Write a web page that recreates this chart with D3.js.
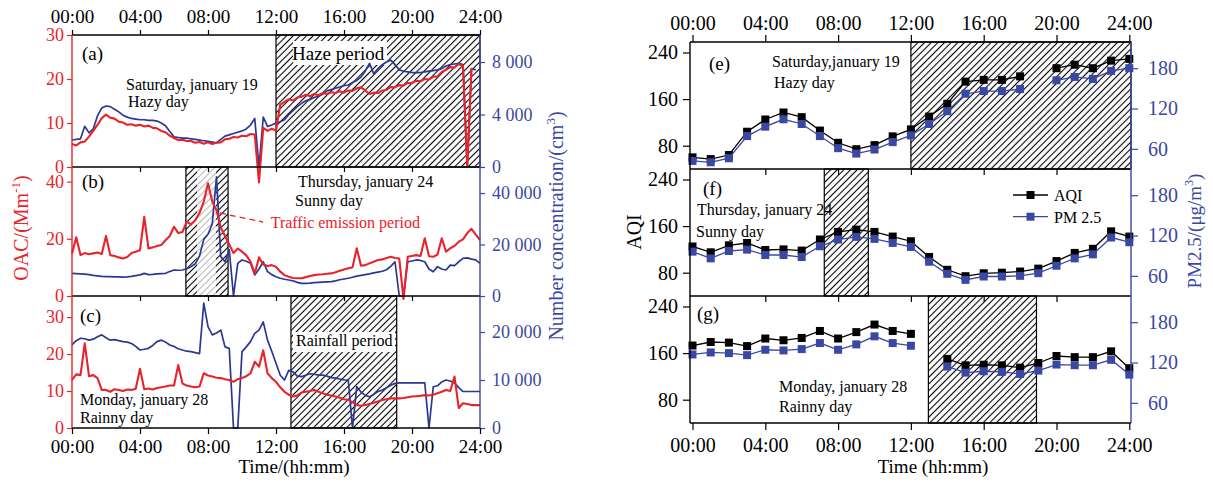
<!DOCTYPE html>
<html><head><meta charset="utf-8">
<script src="https://cdn.jsdelivr.net/npm/d3@7"></script>
<style>
body{margin:0;background:#fff;}
svg text{font-family:"Liberation Serif","Times New Roman",serif;}
</style></head><body>
<svg id="c" width="1213" height="485"></svg>
<script>
// ---------- DATA ----------
const tickHours = [0,4,8,12,16,20,24];
const tickLabels = ["00:00","04:00","08:00","12:00","16:00","20:00","24:00"];
const stepHours = 0.25; // sampling of the continuous series (every 15 min)

// Panel (a) Saturday Jan 19
const aOAC = [5.2,4.9,5.6,5.8,6.9,8.2,9.6,11.1,11.9,11.2,
 11.0,10.3,10.1,9.6,9.7,9.4,9.6,9.2,9.4,8.9,
 8.8,8.2,7.9,7.1,6.6,6.1,6.2,5.9,5.9,5.5,
 5.7,5.3,5.6,5.2,5.5,5.6,6.3,6.4,6.8,6.7,
 7.1,7.0,7.5,7.4,-3.5,8.9,8.2,8.7,8.3,14.2,
 14.8,15.4,15.1,15.8,16.0,16.4,16.1,16.6,16.3,16.8,
 16.6,17.0,16.8,17.2,16.9,17.4,17.3,17.9,18.1,17.4,
 16.6,16.9,16.8,17.4,17.5,18.2,18.1,18.6,18.5,19.1,
 19.1,19.6,19.5,20.0,19.9,20.5,20.6,21.6,22.1,22.7,
 22.6,23.4,22.9,0,22.5,null,null];
const aNumK = [2.06,2.1,2.15,3.1,2.6,2.9,3.9,4.5,4.65,4.6,
 4.4,4.2,3.95,3.8,3.7,3.65,3.6,3.6,3.55,3.55,
 3.5,3.35,3.15,2.7,2.3,2.25,2.2,2.2,2.15,2.1,
 2.05,2.0,1.95,1.9,1.85,2.1,2.35,2.45,2.55,2.65,
 2.75,2.9,3.2,3.7,0,3.8,3.1,3.2,3.35,3.45,
 3.6,4.0,4.3,4.6,4.85,5.05,5.15,5.3,5.4,5.55,
 5.8,5.9,6.0,6.1,6.2,6.25,6.45,6.6,6.85,7.3,
 7.9,7.1,7.5,7.8,8.0,8.15,7.8,7.4,7.3,7.25,
 7.2,7.2,7.2,7.25,7.3,7.35,7.4,7.5,7.7,7.8,
 7.85,7.9,7.8,0,7.5,7.4,null];

// Panel (b) Thursday Jan 24
const bOAC = [14.9,20.5,14.3,15.0,14.6,14.9,15.2,14.7,21.0,14.3,
 14.0,13.5,13.1,13.6,15.0,15.5,16.0,27.7,16.6,17.0,
 17.5,17.8,19.5,21.0,24.2,22.0,22.4,26.0,25.0,26.5,
 29.0,33.0,39.4,33.0,30.0,24.0,21.0,18.0,15.0,16.6,
 15.5,14.2,12.0,7.8,13.5,11.0,10.5,10.8,10.2,8.5,
 7.3,6.7,6.3,6.2,6.2,6.6,7.0,7.3,7.5,7.6,
 7.8,7.9,8.3,8.8,9.3,9.7,10.0,16.7,10.6,10.8,
 11.4,12.0,12.6,12.8,13.3,13.7,13.3,13.1,-1.0,13.7,
 14.0,14.3,14.0,20.2,13.9,13.7,14.5,20.2,15.5,16.7,
 17.5,19.0,19.8,22.0,23.5,21.5,19.5];
const bNumK = [8.8,8.7,8.6,8.5,8.3,8.0,7.8,7.6,7.5,7.5,
 7.4,7.4,7.3,7.4,7.6,7.9,8.2,8.8,8.3,8.4,
 8.6,8.7,8.8,9.5,10.1,10.0,10.1,10.6,11.4,12.5,
 15.5,22.0,24.0,28.0,46.3,15.3,13.3,17.9,0,12.7,
 14.0,13.5,12.7,8.2,10.5,13.3,9.5,8.3,7.5,6.9,
 6.5,6.2,5.9,5.3,4.9,4.9,5.0,5.2,5.3,5.4,
 5.5,5.6,5.9,6.3,6.6,6.9,7.3,7.7,8.0,8.3,
 8.6,9.0,9.3,9.6,10.2,11.5,13.3,0,0,13.3,
 13.6,14.0,13.8,13.3,10.5,9.4,11.4,10.5,10.1,12.0,
 11.8,13.3,14.6,14.8,14.3,14.0,12.7];

// Panel (c) Monday Jan 28
const cOAC = [13.0,14.5,14.3,22.9,14.0,14.3,13.5,10.3,10.3,9.8,
 10.5,10.3,10.0,10.4,10.3,10.6,16.0,10.5,10.7,10.4,
 10.8,11.0,11.2,11.5,11.5,17.0,12.0,11.5,11.2,11.0,
 11.2,14.8,14.2,13.9,13.6,13.5,13.2,13.0,12.5,13.2,
 13.5,14.0,14.8,17.9,16.6,21.0,14.8,13.5,12.5,11.0,
 9.8,9.0,8.5,8.8,9.6,9.8,10.0,10.3,9.8,9.4,
 9.0,8.8,8.5,8.2,7.8,7.6,7.0,6.2,6.0,6.2,
 6.5,6.8,7.2,7.6,7.8,8.0,8.0,8.0,8.1,8.3,
 8.5,8.6,8.7,8.9,8.8,9.0,9.4,9.8,10.3,10.0,
 13.9,5.4,6.7,6.5,6.2,6.2,6.2];
const cNumK = [17.3,18.2,18.7,18.6,18.3,18.5,19.0,19.4,18.8,18.3,
 18.4,18.2,18.0,17.9,17.6,17.0,16.25,16.4,16.6,17.2,
 18.0,18.3,17.9,17.3,17.0,16.5,16.25,16.0,15.9,15.7,
 15.5,26.0,21.1,19.4,19.8,20.4,16.9,16.6,0,0,
 15.9,16.9,18.0,19.7,20.4,22.1,18.3,16.0,13.5,11.0,
 10.0,12.0,11.7,10.8,10.7,11.0,11.3,11.2,11.0,11.0,
 10.8,10.5,10.4,10.2,10.0,10.0,0,8.6,7.5,6.8,
 6.5,7.0,7.6,7.9,8.4,8.9,9.3,9.4,9.4,9.4,
 9.4,9.4,9.4,9.4,0,8.6,8.8,9.6,10.0,9.8,
 9.4,8.4,7.6,7.6,7.6,7.6,7.6];

// Hourly AQI / PM2.5 (right chart)
const hoursR = [0,1,2,3,4,5,6,7,8,9,10,11,12,13,14,15,16,17,18,19,20,21,22,23,24];
const eAQI = [60,57,64,104,125,137,129,106,85,74,81,96,108,130,152,190,193,193,199,null,213,219,213,226,229];
const ePM  = [42,40,46,79,93,104,97,79,61,53,59,70,80,97,116,142,146,146,149,null,162,167,164,176,180];
const fAQI = [125,115,127,131,119,120,118,137,150,154,150,142,134,107,85,74,79,80,82,87,100,114,121,151,142];
const fPM  = [96,86,97,99,91,91,88,104,114,118,115,109,103,81,63,54,59,59,60,64,75,86,92,117,110];
const gAQI = [173,179,178,172,185,182,186,198,185,196,209,198,193,null,150,139,140,139,135,143,155,153,153,163,134];
const gPM  = [132,135,134,131,139,138,140,149,139,147,159,149,145,null,114,105,107,106,103,108,117,116,116,124,102];

// ---------- STYLE ----------
const RED = "#e8232a", BLUE = "#2b3893", BLUE2 = "#3a48a4", BLK = "#000";
const svg = d3.select("#c");
svg.append("rect").attr("width",1213).attr("height",485).attr("fill","#fff");
const defs = svg.append("defs");
defs.append("pattern").attr("id","hatch").attr("patternUnits","userSpaceOnUse")
  .attr("width",4.7).attr("height",4.7).attr("patternTransform","rotate(45)")
  .append("line").attr("x1",2.35).attr("y1",-1).attr("x2",2.35).attr("y2",6)
  .attr("stroke","#000").attr("stroke-width",1.1);

function hatch(x0,x1,y0,y1){
  svg.append("rect").attr("x",x0).attr("y",y0).attr("width",x1-x0).attr("height",y1-y0)
    .attr("fill","url(#hatch)").attr("stroke","#000").attr("stroke-width",1.2);
}
function txt(x,y,s,size,color,anchor){
  return svg.append("text").attr("x",x).attr("y",y).text(s)
    .attr("font-size",size).attr("fill",color||BLK).attr("text-anchor",anchor||"start");
}
function styleAxis(g,color,size){
  g.select(".domain").remove();
  g.selectAll("line").attr("stroke",color).attr("stroke-width",1.2);
  g.selectAll("text").attr("fill",color).attr("font-size",size)
    .attr("font-family",'"Liberation Serif","Times New Roman",serif');
}
const fmtK = d => d===0 ? "0" : d3.format(",")(d*1000).replace(/,/g," ");

// ---------- LEFT CHART ----------
const xL = d3.scaleLinear().domain([0,24]).range([72,480]);
const times = aOAC.map((_,i)=>i*stepHours);
const leftPanels = [
  {top:35, bot:167, oac:aOAC, num:aNumK, oacMax:30, numMax:10.06, oT:[0,10,20,30], nT:[0,4,8]},
  {top:167,bot:296, oac:bOAC, num:bNumK, oacMax:45.1, numMax:50.1, oT:[0,20,40], nT:[0,20,40]},
  {top:296,bot:428, oac:cOAC, num:cNumK, oacMax:35.7, numMax:27.5, oT:[0,10,20,30], nT:[0,10,20]}
];
// shaded periods
hatch(xL(12),xL(24),35,167);
hatch(xL(6.7),xL(9.18),167,296);
svg.append("rect").attr("x",xL(7.35)).attr("y",168).attr("width",xL(8.47)-xL(7.35)).attr("height",127)
  .attr("fill","#fff").attr("opacity",0.72);
hatch(xL(12.88),xL(19.1),296,428);
svg.append("rect").attr("x",293).attr("y",41).attr("width",94).attr("height",24).attr("fill","#fff");
svg.append("rect").attr("x",293).attr("y",332).attr("width",102).attr("height",20).attr("fill","#fff");

leftPanels.forEach(p=>{
  const yO = d3.scaleLinear().domain([0,p.oacMax]).range([p.bot,p.top]);
  const yN = d3.scaleLinear().domain([0,p.numMax]).range([p.bot,p.top]);
  const lineN = d3.line().defined(d=>d[1]!=null).x(d=>xL(d[0])).y(d=>yN(d[1]));
  const lineO = d3.line().defined(d=>d[1]!=null).x(d=>xL(d[0])).y(d=>yO(d[1]));
  svg.append("path").datum(times.map((t,i)=>[t,p.num[i]])).attr("d",lineN)
    .attr("fill","none").attr("stroke",BLUE).attr("stroke-width",1.7).attr("stroke-linejoin","round");
  svg.append("path").datum(times.map((t,i)=>[t,p.oac[i]])).attr("d",lineO)
    .attr("fill","none").attr("stroke",RED).attr("stroke-width",2.1).attr("stroke-linejoin","round");
  svg.append("g").attr("transform","translate(72,0)")
    .call(d3.axisLeft(yO).tickValues(p.oT).tickSize(5).tickPadding(3))
    .call(g=>styleAxis(g,RED,18));
  svg.append("g").attr("transform","translate(480,0)")
    .call(d3.axisRight(yN).tickValues(p.nT).tickSize(5).tickPadding(7).tickFormat(fmtK))
    .call(g=>styleAxis(g,BLUE2,18));
});
// frame
[35,167,296,428].forEach(y=>svg.append("line").attr("x1",72).attr("x2",480).attr("y1",y).attr("y2",y)
  .attr("stroke","#000").attr("stroke-width",1.3));
svg.append("line").attr("x1",72).attr("x2",72).attr("y1",35).attr("y2",428).attr("stroke",RED).attr("stroke-width",1.4);
svg.append("line").attr("x1",480).attr("x2",480).attr("y1",35).attr("y2",428).attr("stroke",BLUE2).attr("stroke-width",1.4);
svg.append("g").attr("transform","translate(0,35)")
  .call(d3.axisTop(xL).tickValues(tickHours).tickFormat((d,i)=>tickLabels[i]).tickSize(5).tickPadding(7))
  .call(g=>styleAxis(g,BLK,19));
svg.append("g").attr("transform","translate(0,428)")
  .call(d3.axisBottom(xL).tickValues(tickHours).tickFormat((d,i)=>tickLabels[i]).tickSize(6).tickPadding(6))
  .call(g=>styleAxis(g,BLK,19));
[167,296].forEach(y=>svg.append("g").attr("transform",`translate(0,${y})`)
  .call(d3.axisBottom(xL).tickValues(tickHours.slice(1,-1)).tickFormat("").tickSize(5))
  .call(g=>styleAxis(g,BLK,19)));

// annotations left
txt(82,60,"(a)",19); txt(126,90,"Saturday, january 19",16); txt(128,107,"Hazy day",16);
txt(292,60,"Haze period",19);
txt(82,188,"(b)",19); txt(298,187,"Thursday, january 24",16); txt(295,206,"Sunny day",16);
txt(420,228,"Traffic emission period",16,RED,"end");
svg.append("line").attr("x1",220).attr("y1",213).attr("x2",263).attr("y2",222)
  .attr("stroke",RED).attr("stroke-width",1.3).attr("stroke-dasharray","6,4");
txt(80,322,"(c)",19); txt(80,405,"Monday, january 28",16); txt(80,423,"Rainny day",16);
txt(296,346,"Rainfall period",16);
txt(294,473,"Time/(hh:mm)",19,BLK,"middle");
const oacL = svg.append("text").attr("transform","translate(28,228) rotate(-90)")
  .attr("text-anchor","middle").attr("font-size",20).attr("fill",RED);
oacL.append("tspan").text("OAC/(Mm");
oacL.append("tspan").text("-1").attr("font-size",13).attr("dy",-8);
oacL.append("tspan").text(")").attr("dy",8);
const numL = svg.append("text").attr("transform","translate(563,226) rotate(-90)")
  .attr("text-anchor","middle").attr("font-size",20).attr("fill",BLUE2);
numL.append("tspan").text("Number concentration/(cm");
numL.append("tspan").text("3").attr("font-size",13).attr("dy",-8);
numL.append("tspan").text(")").attr("dy",8);

// ---------- RIGHT CHART ----------
const xR = d3.scaleLinear().domain([0,24]).range([692.5,1129.3]);
const rightPanels = [
  {top:42, bot:169, aqi:eAQI, pm:ePM},
  {top:169,bot:296, aqi:fAQI, pm:fPM},
  {top:296,bot:423, aqi:gAQI, pm:gPM}
];
hatch(xR(12),1131,42,169);
hatch(xR(7.24),xR(9.66),169,296);
hatch(xR(12.96),xR(18.9),296,423);

rightPanels.forEach(p=>{
  const yA = d3.scaleLinear().domain([40,258]).range([p.bot,p.top]);
  const yP = d3.scaleLinear().domain([30,219]).range([p.bot,p.top]);
  [[p.aqi,yA,BLK],[p.pm,yP,BLUE2]].forEach(([vals,y,col])=>{
    const pts = hoursR.map((h,i)=>[h,vals[i]]);
    svg.append("path").datum(pts)
      .attr("d",d3.line().defined(d=>d[1]!=null).x(d=>xR(d[0])).y(d=>y(d[1])))
      .attr("fill","none").attr("stroke",col).attr("stroke-width",1.3);
    svg.append("g").selectAll("rect").data(pts.filter(d=>d[1]!=null)).join("rect")
      .attr("x",d=>xR(d[0])-4).attr("y",d=>y(d[1])-4).attr("width",8).attr("height",8).attr("fill",col);
  });
  svg.append("g").attr("transform","translate(690,0)")
    .call(d3.axisLeft(yA).tickValues([80,160,240]).tickSize(7).tickPadding(5))
    .call(g=>styleAxis(g,BLK,20));
  svg.append("g").attr("transform","translate(1131,0)")
    .call(d3.axisRight(yP).tickValues([60,120,180]).tickSize(7).tickPadding(10))
    .call(g=>styleAxis(g,BLUE2,20));
});
[42,169,296,423].forEach(y=>svg.append("line").attr("x1",690).attr("x2",1131).attr("y1",y).attr("y2",y)
  .attr("stroke","#000").attr("stroke-width",1.3));
svg.append("line").attr("x1",690).attr("x2",690).attr("y1",42).attr("y2",423).attr("stroke","#000").attr("stroke-width",1.4);
svg.append("line").attr("x1",1131).attr("x2",1131).attr("y1",42).attr("y2",423).attr("stroke",BLUE2).attr("stroke-width",1.4);
svg.append("g").attr("transform","translate(0,42)")
  .call(d3.axisTop(xR).tickValues(tickHours).tickFormat((d,i)=>tickLabels[i]).tickSize(7).tickPadding(5))
  .call(g=>styleAxis(g,BLK,20));
svg.append("g").attr("transform","translate(0,423)")
  .call(d3.axisBottom(xR).tickValues(tickHours).tickFormat((d,i)=>tickLabels[i]).tickSize(7).tickPadding(8))
  .call(g=>styleAxis(g,BLK,20));
[169,296].forEach(y=>svg.append("g").attr("transform",`translate(0,${y})`)
  .call(d3.axisBottom(xR).tickValues(tickHours.slice(1,-1)).tickFormat("").tickSize(6))
  .call(g=>styleAxis(g,BLK,20)));

// annotations right
txt(709,70,"(e)",19); txt(772,67,"Saturday,january 19",16); txt(774,88,"Hazy day",16);
txt(703,195,"(f)",19); txt(697,215,"Thursday, january 24",16); txt(696,237,"Sunny day",16);
txt(697,320,"(g)",19); txt(779,392,"Monday, january 28",16); txt(779,412,"Rainny day",16);
txt(933,473,"Time (hh:mm)",19,BLK,"middle");
// legend
[["AQI",BLK,195],["PM 2.5",BLUE2,216.7]].forEach(([lab,col,y])=>{
  svg.append("line").attr("x1",1013).attr("x2",1048).attr("y1",y).attr("y2",y).attr("stroke",col).attr("stroke-width",1.3);
  svg.append("rect").attr("x",1026.5).attr("y",y-4).attr("width",8).attr("height",8).attr("fill",col);
  txt(1054,y+6,lab,16);
});
svg.append("text").attr("transform","translate(641,232) rotate(-90)")
  .attr("text-anchor","middle").attr("font-size",20).attr("fill",BLK).text("AQI");
const pmL = svg.append("text").attr("transform","translate(1201,231) rotate(-90)")
  .attr("text-anchor","middle").attr("font-size",19).attr("fill",BLUE2);
pmL.append("tspan").text("PM2.5/(μg/m");
pmL.append("tspan").text("3").attr("font-size",12).attr("dy",-8);
pmL.append("tspan").text(")").attr("dy",8);
</script>
</body></html>
